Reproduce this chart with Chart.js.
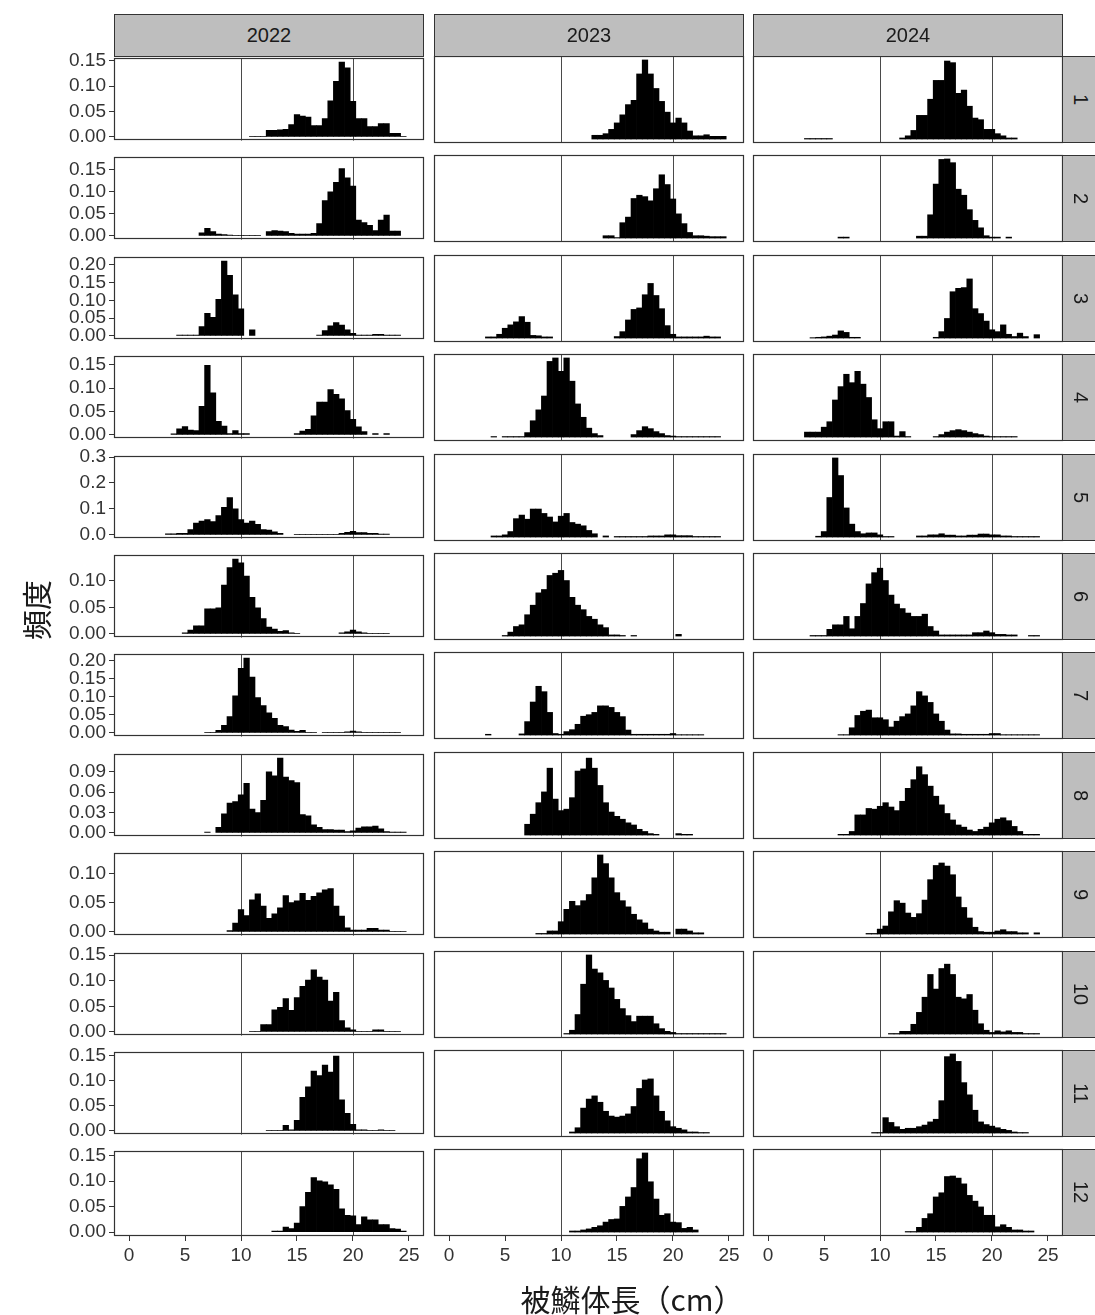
<!DOCTYPE html>
<html>
<head>
<meta charset="utf-8">
<script src="https://cdn.jsdelivr.net/npm/chart.js@4"></script>
<style>
  body { margin: 0; background: #fff; }
  #wrap { position: relative; width: 1095px; height: 1315px; overflow: hidden; background: #fff; }
  canvas { position: absolute; }
  .strip { position: absolute; box-sizing: border-box; background: #bebebe; border: 1px solid #333;
           display: flex; align-items: center; justify-content: center;
           font-family: 'Liberation Sans', Arial, sans-serif; font-size: 20px; color: #1a1a1a; }
  .strip.side { writing-mode: vertical-rl; }
  .title { position: absolute; white-space: nowrap; font-family: 'Noto Sans CJK JP', sans-serif;
           font-size: 30px; color: #1a1a1a; line-height: 1; }
</style>
</head>
<body>
<div id="wrap"></div>
<script>
// facet labels
const years = ['2022', '2023', '2024'];
const months = ['1', '2', '3', '4', '5', '6', '7', '8', '9', '10', '11', '12'];

// histogram bin centres (cm), 0.5 cm bins
const binCenters = [3.5, 4,4.5, 5,5.5, 6,6.5, 7,7.5, 8,8.5, 9,9.5, 10,10.5, 11,11.5, 12,12.5,
  13,13.5, 14,14.5, 15,15.5, 16,16.5, 17,17.5, 18,18.5, 19,19.5, 20,20.5, 21,21.5, 22,22.5,
  23,23.5, 24,24.5];

const xTicks = [0, 5, 10, 15, 20, 25];
const refLines = [10, 20];

// y ticks per month row
const rowTicks = [
  [0, 0.05, 0.10, 0.15],
  [0, 0.05, 0.10, 0.15],
  [0, 0.05, 0.10, 0.15, 0.20],
  [0, 0.05, 0.10, 0.15],
  [0, 0.1, 0.2, 0.3],
  [0, 0.05, 0.10],
  [0, 0.05, 0.10, 0.15, 0.20],
  [0, 0.03, 0.06, 0.09],
  [0, 0.05, 0.10],
  [0, 0.05, 0.10, 0.15],
  [0, 0.05, 0.10, 0.15],
  [0, 0.05, 0.10, 0.15]
];
const rowDigits = [2, 2, 2, 2, 1, 2, 2, 2, 2, 2, 2, 2];

// relative frequency per bin, one array per year/month
const h2022_01 = [0, 0,0, 0,0, 0,0, 0,0, 0,0, 0,0, 0,0, .001,.001, .001,.013, .013,.014, .015,.024, .044,.041, .039,.022, .022,.036, .071,.109, .147,.136, .07,.036, .036,.02, .02,.026, .026,.007, .007,.001];
const h2022_02 = [0, 0,0, 0,0, 0,.007, .017,.01, .004,.003, .002,.001, .001,.001, .001,.001, 0,.01, .012,.011, .01,.006, .004,.004, .004,.006, .028,.08, .1,.122, .153,.132, .113,.036, .03,.024, .012,.036, .047,.011, .011,0];
const h2022_03 = [0, 0,.002, .002,.002, .002,.026, .063,.052, .103,.21, .17,.115, .076,0, .017,0, 0,0, 0,0, 0,0, 0,0, 0,0, .002,.015, .028,.037, .03,.017, .007,.002, .002,.002, .004,.004, .002,.002, .002,0];
const h2022_04 = [0, .002,.013, .018,.01, .009,.061, .149,.09, .029,.019, .003,.009, .003,.003, 0,0, 0,0, 0,0, 0,0, .003,.008, .012,.041, .07,.07, .097,.087, .077,.052, .033,.017, .007,0, .003,0, .003,0, 0,0];
const h2022_05 = [.004, .004,.006, .006,.02, .045,.053, .059,.051, .074,.106, .144,.1, .059,.045, .053,.041, .02,.018, .012,.006, 0,0, .002,.002, .002,.002, .002,.002, .002,.002, .006,.01, .014,.009, .009,.006, .006,.003, .003,0, 0,0];
const h2022_06 = [0, 0,0, .002,.007, .015,.015, .047,.047, .049,.092, .125,.141, .134,.109, .069,.049, .029,.013, .009,.005, .006,.002, .001,0, 0,0, 0,0, 0,0, .002,.004, .007,.004, .002,.001, .001,.001, .001,0, 0,0];
const h2022_07 = [0, 0,0, 0,0, 0,0, .001,.001, .007,.021, .045,.102, .178,.206, .154,.097, .075,.055, .04,.021, .017,.008, .004,.007, .001,.001, 0,.001, .001,.001, .001,.003, .005,.003, .001,.001, .001,.001, .001,.001, .001,0];
const h2022_08 = [0, 0,0, 0,0, 0,0, .001,0, .008,.028, .044,.046, .056,.073, .035,.03, .048,.09, .084,.11, .082,.077, .074,.027, .025,.012, .008,.005, .005,.004, .004,.002, .003,.007, .009,.009, .01,.006, .002,.001, .001,.001];
const h2022_09 = [0, 0,0, 0,0, 0,0, 0,0, 0,0, .002,.015, .038,.028, .055,.065, .044,.023, .031,.041, .062,.05, .053,.066, .054,.061, .067,.072, .074,.044, .027,.007, .003,.003, .003,.006, .006,.003, .003,.001, .001,.001];
const h2022_10 = [0, 0,0, 0,0, 0,0, 0,0, 0,0, 0,0, 0,0, .001,.001, .014,.014, .043,.048, .065,.042, .067,.089, .101,.121, .107,.101, .06,.077, .022,.008, .004,.001, .001,.001, .004,.004, .001,.001, .001,0];
const h2022_11 = [0, 0,0, 0,0, 0,0, 0,0, 0,0, 0,0, 0,0, 0,0, 0,.001, .001,.001, .011,.002, .021,.067, .088,.119, .11,.131, .117,.149, .062,.035, .013,.002, .002,.001, .001,.002, .001,.001, 0,0];
const h2022_12 = [0, 0,0, 0,0, 0,0, 0,0, 0,0, 0,0, 0,0, 0,0, 0,0, .002,.002, .01,.007, .018,.05, .078,.107, .101,.099, .093,.084, .046,.033, .032,.015, .03,.024, .024,.015, .015,.007, .006,.002];

const h2023_01 = [0, 0,0, 0,0, 0,0, 0,0, 0,0, 0,0, 0,0, 0,0, 0,0, .007,.007, .01,.018, .03,.045, .064,.072, .121,.147, .121,.094, .07,.05, .03,.039, .03,.015, .006,.006, .008,.005, .005,.005];
const h2023_02 = [0, 0,0, 0,0, 0,0, 0,0, 0,0, 0,0, 0,0, 0,0, 0,0, 0,0, .005,.005, .001,.033, .045,.085, .092,.089, .08,.106, .136,.115, .084,.052, .031,.012, .005,.005, .004,.003, .003,.003];
const h2023_03 = [.003, .003,.01, .026,.035, .043,.057, .042,.007, .006,.003, .003,0, 0,0, 0,0, 0,0, 0,0, 0,0, .004,.017, .048,.076, .08,.115, .145,.113, .078,.033, .01,.003, .003,.003, .003,.003, .005,.003, .003,0];
const h2023_04 = [0, .001,0, .001,.001, .001,.001, .009,.033, .055,.083, .153,.16, .133,.16, .113,.067, .04,.018, .007,.003, 0,0, 0,0, 0,.005, .013,.021, .017,.011, .007,.003, .002,.001, .001,.001, .001,.001, .001,.001, .001,0];
const h2023_05 = [0, .004,.004, .008,.02, .067,.08, .065,.102, .102,.086, .073,.055, .076,.086, .053,.047, .041,.024, .012,0, .004,0, .002,.002, .002,.002, .002,.002, .004,.004, .004,.008, .008,.005, .005,.005, .002,.002, .002,.002, .002,0];
const h2023_06 = [0, 0,0, .001,.007, .017,.02, .038,.055, .077,.083, .108,.112, .117,.099, .069,.055, .047,.035, .03,.02, .015,.002, .002,.001, 0,.001, 0,0, 0,0, 0,0, 0,.003, 0,0, 0,0, 0,0, 0,0];
const h2023_07 = [.002, 0,0, 0,0, 0,.003, .035,.086, .127,.113, .059,.004, .002,.009, .014,.028, .049,.053, .059,.076, .076,.072, .059,.048, .013,.002, .002,.002, .002,.002, .002,.002, .004,.001, .001,.001, .001,.001, 0,0, 0,0];
const h2023_08 = [0, 0,0, 0,0, 0,0, .015,.029, .045,.06, .093,.05, .034,.036, .052,.089, .092,.107, .093,.069, .045,.032, .026,.022, .017,.014, .008,.005, .002,.001, 0,0, 0,.002, .001,.001, 0,0, 0,0, 0,0];
const h2023_09 = [0, 0,0, 0,0, 0,0, 0,0, .001,.001, .005,.005, .02,.04, .053,.046, .054,.064, .091,.128, .114,.091, .067,.054, .044,.032, .023,.018, .008,.005, .003,.003, 0,.008, .008,.005, .002,.002, 0,0, 0,0];
const h2023_10 = [0, 0,0, 0,0, 0,0, 0,0, 0,0, 0,0, 0,.001, .007,.036, .092,.146, .12,.113, .099,.085, .064,.047, .034,.023, .033,.033, .033,.019, .01,.005, .003,.001, .001,.001, .001,.001, .001,.001, .001,.001];
const h2023_11 = [0, 0,0, 0,0, 0,0, 0,0, 0,0, 0,0, 0,0, .002,.01, .047,.064, .07,.058, .041,.032, .03,.032, .036,.05, .084,.1, .102,.07, .041,.023, .012,.009, .006,.002, .002,.001, .001,0, 0,0];
const h2023_12 = [0, 0,0, 0,0, 0,0, 0,0, 0,0, 0,0, 0,0, .002,.002, .004,.006, .009,.012, .019,.024, .025,.049, .067,.085, .14,.151, .096,.063, .032,.035, .019,.018, .007,.009, .004,0, 0,0, 0,0];

const h2024_01 = [.001, .001,.001, .001,.001, 0,0, 0,0, 0,0, 0,0, 0,0, 0,0, .002,.006, .016,.044, .044,.074, .109,.109, .145,.142, .085,.091, .061,.039, .036,.018, .018,.01, .006,.002, .002,0, 0,0, 0,0];
const h2024_02 = [0, 0,0, 0,0, 0,.002, .002,0, 0,0, 0,0, 0,0, 0,0, 0,0, 0,.004, .004,.05, .116,.169, .17,.162, .105,.092, .061,.038, .022,.005, .002,.002, 0,.002, 0,0, 0,0, 0,0];
const h2024_03 = [0, .001,.002, .003,.005, .008,.019, .015,.002, .002,0, 0,0, 0,0, 0,0, 0,0, 0,0, 0,0, .002,.017, .052,.123, .132,.134, .157,.078, .065,.045, .022,.017, .035,.01, .004,.013, .004,0, .009,0];
const h2024_04 = [.01, .01,.01, .02,.031, .075,.102, .127,.11, .133,.107, .08,.035, .017,.031, .031,.002, .011,.001, 0,0, 0,0, .001,.005, .01,.013, .015,.013, .01,.007, .005,.002, .001,.001, .001,.001, .001,0, 0,0, 0,0];
const h2024_05 = [0, 0,.003, .02,.144, .288,.224, .106,.047, .02,.012, .015,.015, .008,.002, .002,0, 0,0, 0,.004, .004,.008, .008,.012, .007,.007, .004,.004, .007,.007, .011,.011, .008,.008, .004,.004, .002,.002, .002,.002, .002,0];
const h2024_06 = [0, .001,.001, .001,.012, .02,.02, .035,.013, .035,.058, .093,.113, .121,.099, .073,.057, .049,.041, .035,.035, .039,.017, .009,.002, .002,.002, .002,.002, .002,.006, .006,.009, .006,.003, .003,.002, .002,0, 0,.001, .001,0];
const h2024_07 = [0, 0,0, 0,0, 0,.001, .001,.019, .051,.062, .065,.045, .045,.04, .021,.036, .048,.055, .076,.113, .102,.085, .055,.036, .013,.003, .003,.002, .002,.002, .002,.002, .004,.004, .001,.001, .001,.001, .001,.001, .001,0];
const h2024_08 = [0, 0,0, 0,0, 0,.001, .001,.005, .028,.028, .037,.036, .04,.045, .039,.034, .047,.065, .077,.095, .084,.068, .054,.042, .03,.021, .014,.011, .007,.005, .008,.011, .017,.022, .024,.02, .012,.005, .001,.001, .001,0];
const h2024_09 = [0, 0,0, 0,0, 0,0, 0,0, 0,0, .001,.001, .008,.013, .036,.054, .05,.034, .027,.033, .055,.088, .111,.115, .11,.096, .06,.043, .026,.011, .004,.003, .003,.005, .007,.004, .004,.002, .002,0, .002,0];
const h2024_10 = [0, 0,0, 0,0, 0,0, 0,0, 0,0, 0,0, 0,0, .001,.001, .005,.005, .018,.04, .068,.11, .083,.121, .129,.11, .068,.065, .073,.044, .019,.007, .003,.006, .004,.006, .003,.003, .001,.001, .001,0];
const h2024_11 = [0, 0,0, 0,0, 0,0, 0,0, 0,0, 0,.001, .001,.029, .02,.012, .007,.009, .009,.012, .015,.021, .026,.061, .144,.149, .135,.095, .072,.043, .021,.016, .013,.01, .007,.005, .002,.001, .001,0, 0,0];
const h2024_12 = [0, 0,0, 0,0, 0,0, 0,0, 0,0, 0,0, 0,0, 0,0, 0,.001, .001,.009, .026,.035, .067,.075, .106,.107, .103,.092, .07,.059, .048,.032, .032,.01, .014,.009, .004,.004, .002,.002, 0,0];

const grid = [
  [h2022_01, h2022_02, h2022_03, h2022_04, h2022_05, h2022_06, h2022_07, h2022_08, h2022_09, h2022_10, h2022_11, h2022_12],
  [h2023_01, h2023_02, h2023_03, h2023_04, h2023_05, h2023_06, h2023_07, h2023_08, h2023_09, h2023_10, h2023_11, h2023_12],
  [h2024_01, h2024_02, h2024_03, h2024_04, h2024_05, h2024_06, h2024_07, h2024_08, h2024_09, h2024_10, h2024_11, h2024_12]
];

// page layout (px)
const colLeft = [114, 434, 753];
const panelW = 310;
const panelH = 87;
const rowTop = months.map((m, i) => Math.round(56 + i * 99.4));
const M = 12;      // spare margin around each panel canvas
const YW = 56;     // y axis strip width
const XH = 34;     // x axis strip height
const tickFont = { family: "'Liberation Sans', Arial, sans-serif", size: 19 };

const wrap = document.getElementById('wrap');

const panelDeco = {
  id: 'panelDeco',
  beforeDatasetsDraw(chart) {
    const { ctx, chartArea: a, scales: { x } } = chart;
    ctx.save();
    ctx.strokeStyle = '#4a4a4a';
    ctx.lineWidth = 1;
    refLines.forEach(v => {
      const px = Math.round(x.getPixelForValue(v)) + 0.5;
      ctx.beginPath();
      ctx.moveTo(px, a.top);
      ctx.lineTo(px, a.bottom);
      ctx.stroke();
    });
    ctx.restore();
  },
  afterDatasetsDraw(chart) {
    const { ctx, chartArea: a } = chart;
    ctx.save();
    ctx.strokeStyle = '#333';
    ctx.lineWidth = 1.2;
    ctx.strokeRect(Math.round(a.left) + 0.5, Math.round(a.top) + 0.5,
                   Math.round(a.right - a.left) - 1, Math.round(a.bottom - a.top) - 1);
    ctx.restore();
  }
};

function rowMax(r) {
  return Math.max(...grid.map(col => Math.max(...col[r])));
}

grid.forEach((col, c) => {
  col.forEach((vals, r) => {
    const leftCol = c === 0;
    const bottomRow = r === months.length - 1;
    const padL = leftCol ? 0 : M;
    const extraL = leftCol ? YW : M;
    const padB = bottomRow ? 0 : M;
    const extraB = bottomRow ? XH : M;

    const cv = document.createElement('canvas');
    cv.width = panelW + extraL + M;
    cv.height = panelH + M + extraB;
    cv.style.left = (colLeft[c] - extraL) + 'px';
    cv.style.top = (rowTop[r] - M) + 'px';
    wrap.appendChild(cv);

    const top = rowMax(r);
    const ticks = rowTicks[r];
    const digits = rowDigits[r];

    new Chart(cv, {
      type: 'bar',
      data: {
        datasets: [{
          data: binCenters.map((b, i) => ({ x: b, y: vals[i] > 0 ? vals[i] : null })),
          backgroundColor: '#000',
          borderWidth: 0,
          barPercentage: 1,
          categoryPercentage: 1
        }]
      },
      options: {
        responsive: false,
        animation: false,
        layout: { padding: { left: padL, top: M, right: M, bottom: padB } },
        plugins: { legend: { display: false }, tooltip: { enabled: false } },
        scales: {
          x: {
            type: 'linear',
            offset: false,
            min: -1.34,
            max: 26.34,
            display: bottomRow,
            afterBuildTicks: ax => { ax.ticks = xTicks.map(v => ({ value: v })); },
            afterFit: ax => { if (bottomRow) ax.height = XH; },
            grid: { display: true, offset: false, drawOnChartArea: false, drawTicks: true,
                    tickLength: 5, color: '#333' },
            border: { display: false },
            ticks: { font: tickFont, color: '#333', padding: 3, maxRotation: 0, autoSkip: false,
                     callback: v => String(v) }
          },
          y: {
            min: -0.05 * top,
            max: 1.05 * top,
            display: leftCol,
            afterBuildTicks: ax => {
              ax.ticks = ticks.filter(v => v <= ax.max + 1e-9).map(v => ({ value: v }));
            },
            afterFit: ax => { if (leftCol) ax.width = YW; },
            grid: { display: true, offset: false, drawOnChartArea: false, drawTicks: true,
                    tickLength: 5, color: '#333' },
            border: { display: false },
            ticks: { font: tickFont, color: '#333', padding: 3, autoSkip: false,
                     callback: v => Number(v).toFixed(digits) }
          }
        }
      },
      plugins: [panelDeco]
    });
  });
});

// facet strips
years.forEach((y, c) => {
  const d = document.createElement('div');
  d.className = 'strip';
  d.style.left = colLeft[c] + 'px';
  d.style.top = '14px';
  d.style.width = panelW + 'px';
  d.style.height = '43px';
  d.textContent = y;
  wrap.appendChild(d);
});
months.forEach((m, r) => {
  const d = document.createElement('div');
  d.className = 'strip side';
  d.style.left = (colLeft[2] + panelW - 1) + 'px';
  d.style.top = rowTop[r] + 'px';
  d.style.width = '36px';
  d.style.height = panelH + 'px';
  d.textContent = m;
  wrap.appendChild(d);
});

// axis titles
const yt = document.createElement('div');
yt.className = 'title';
yt.textContent = '頻度';
yt.style.left = '35px';
yt.style.top = '610px';
yt.style.transform = 'translate(-50%, -50%) rotate(-90deg)';
wrap.appendChild(yt);

const xt = document.createElement('div');
xt.className = 'title';
xt.textContent = '被鱗体長（cm）';
xt.style.left = '632px';
xt.style.top = '1298px';
xt.style.transform = 'translate(-50%, -50%)';
wrap.appendChild(xt);
</script>
</body>
</html>
